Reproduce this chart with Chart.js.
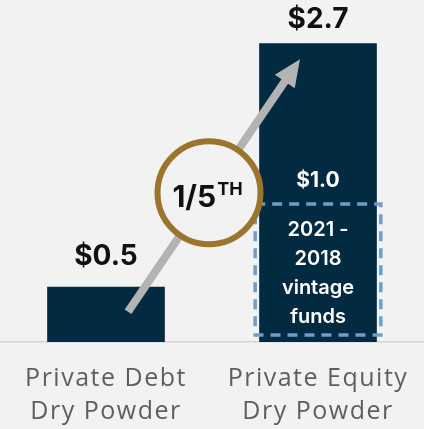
<!DOCTYPE html>
<html>
<head>
<meta charset="utf-8">
<script src="https://cdn.jsdelivr.net/npm/chart.js@4.4.1/dist/chart.umd.min.js"></script>
<style>
  html, body { margin: 0; padding: 0; background: #f2f2f2; }
  #wrap { width: 424px; height: 429px; }
</style>
</head>
<body>
<div id="wrap"><canvas id="chart"></canvas></div>
<script>
// data
const categories = [["Private Debt", "Dry Powder"], ["Private Equity", "Dry Powder"]];
const dryPowder = [0.5, 2.7];
const valueLabels = ["$0.5", "$2.7"];
const vintageValue = 1.0;
const vintageLabel = "$1.0";
const vintageLines = ["2021 -", "2018", "vintage", "funds"];
const ratioText = "1/5";
const ratioSup = "TH";

const navy = "#022a40";
const dash = "#6f9dc7";
const gold = "#9b742e";
const arrowGray = "#b3b3b3";

const overlay = {
  id: "overlay",
  beforeDraw(chart) {
    // wider tracking for the category labels
    chart.ctx.letterSpacing = "1.5px";
  },
  beforeDatasetsDraw(chart) {
    chart.ctx.letterSpacing = "0px";
  },
  afterDatasetsDraw(chart) {
    const ctx = chart.ctx;
    const bars = chart.getDatasetMeta(0).data;
    const debt = bars[0], pe = bars[1];

    // dashed box around the vintage portion of the PE bar
    const lineH = 29;
    const boxLeft = pe.x - pe.width / 2 - 4;
    const boxRight = pe.x + pe.width / 2 + 4;
    const boxBottom = pe.base - 7;
    const lastCenter = boxBottom - 4 - lineH / 2;
    const firstCenter = lastCenter - (vintageLines.length - 1) * lineH;
    const boxTop = firstCenter - lineH / 2 - 11;
    ctx.save();
    ctx.strokeStyle = dash;
    ctx.lineWidth = 3.5;
    ctx.setLineDash([10, 7]);
    ctx.strokeRect(boxLeft, boxTop, boxRight - boxLeft, boxBottom - boxTop);
    ctx.restore();

    ctx.save();
    ctx.fillStyle = "#ffffff";
    ctx.textAlign = "center";
    ctx.textBaseline = "middle";
    ctx.font = "600 20px Inter";
    vintageLines.forEach((t, i) => ctx.fillText(t, pe.x, firstCenter + i * lineH));
    ctx.font = "bold 21px Inter";
    ctx.fillText(vintageLabel, pe.x, boxTop - 23);
    ctx.restore();

    // arrow from debt bar up to PE bar
    const x0 = debt.x + 22, y0 = debt.y + 25;
    const x1 = pe.x - 18, y1 = pe.y + 16;
    const ang = Math.atan2(y1 - y0, x1 - x0);
    const headLen = 27, headHalf = 12;
    const bx = x1 - Math.cos(ang) * headLen, by = y1 - Math.sin(ang) * headLen;
    ctx.save();
    ctx.strokeStyle = arrowGray;
    ctx.fillStyle = arrowGray;
    ctx.lineWidth = 8;
    ctx.beginPath();
    ctx.moveTo(x0, y0);
    ctx.lineTo(bx + Math.cos(ang) * 2, by + Math.sin(ang) * 2);
    ctx.stroke();
    ctx.beginPath();
    ctx.moveTo(x1, y1);
    ctx.lineTo(bx + Math.sin(ang) * headHalf, by - Math.cos(ang) * headHalf);
    ctx.lineTo(bx - Math.sin(ang) * headHalf, by + Math.cos(ang) * headHalf);
    ctx.closePath();
    ctx.fill();
    ctx.restore();

    // ratio circle on the arrow
    const t = 0.471;
    const cx = x0 + (x1 - x0) * t, cy = y0 + (y1 - y0) * t;
    ctx.save();
    ctx.beginPath();
    ctx.arc(cx, cy, 51.5, 0, Math.PI * 2);
    ctx.fillStyle = "#f2f2f2";
    ctx.fill();
    ctx.lineWidth = 6;
    ctx.strokeStyle = gold;
    ctx.stroke();
    ctx.fillStyle = "#111111";
    ctx.textBaseline = "alphabetic";
    ctx.font = "bold 30px Inter";
    const w1 = ctx.measureText(ratioText).width;
    ctx.font = "bold 18px Inter";
    const w2 = ctx.measureText(ratioSup).width;
    const start = cx - (w1 + w2) / 2 - 2;
    ctx.font = "bold 30px Inter";
    ctx.textAlign = "left";
    ctx.fillText(ratioText, start, cy + 14);
    ctx.font = "bold 18px Inter";
    ctx.fillText(ratioSup, start + w1 + 1, cy + 2);
    ctx.restore();

    // value labels above bars
    const gaps = [30, 24];
    ctx.save();
    ctx.fillStyle = "#111111";
    ctx.textAlign = "center";
    ctx.textBaseline = "middle";
    ctx.font = "bold 28px Inter";
    bars.forEach((b, i) => ctx.fillText(valueLabels[i], b.x, b.y - gaps[i]));
    ctx.restore();
  }
};

new Chart(document.getElementById("chart"), {
  type: "bar",
  data: {
    labels: categories,
    datasets: [{
      data: dryPowder,
      backgroundColor: navy,
      borderWidth: 0,
      categoryPercentage: 1,
      barPercentage: 0.555
    }]
  },
  options: {
    responsive: true,
    maintainAspectRatio: false,
    animation: false,
    layout: { padding: { top: 10, left: 0, right: 0, bottom: 0 } },
    plugins: { legend: { display: false }, tooltip: { enabled: false } },
    scales: {
      x: {
        afterFit(scale) { scale.height = 87; },
        grid: { display: false, drawTicks: false },
        border: { display: true, color: "#d4d4d4", width: 1.5 },
        ticks: {
          color: "#5f5f5f",
          padding: 20,
          font: { family: "'Open Sans'", size: 25, lineHeight: 1.32 }
        }
      },
      y: { display: false, min: 0, max: 3 }
    }
  },
  plugins: [overlay]
});
</script>
</body>
</html>
